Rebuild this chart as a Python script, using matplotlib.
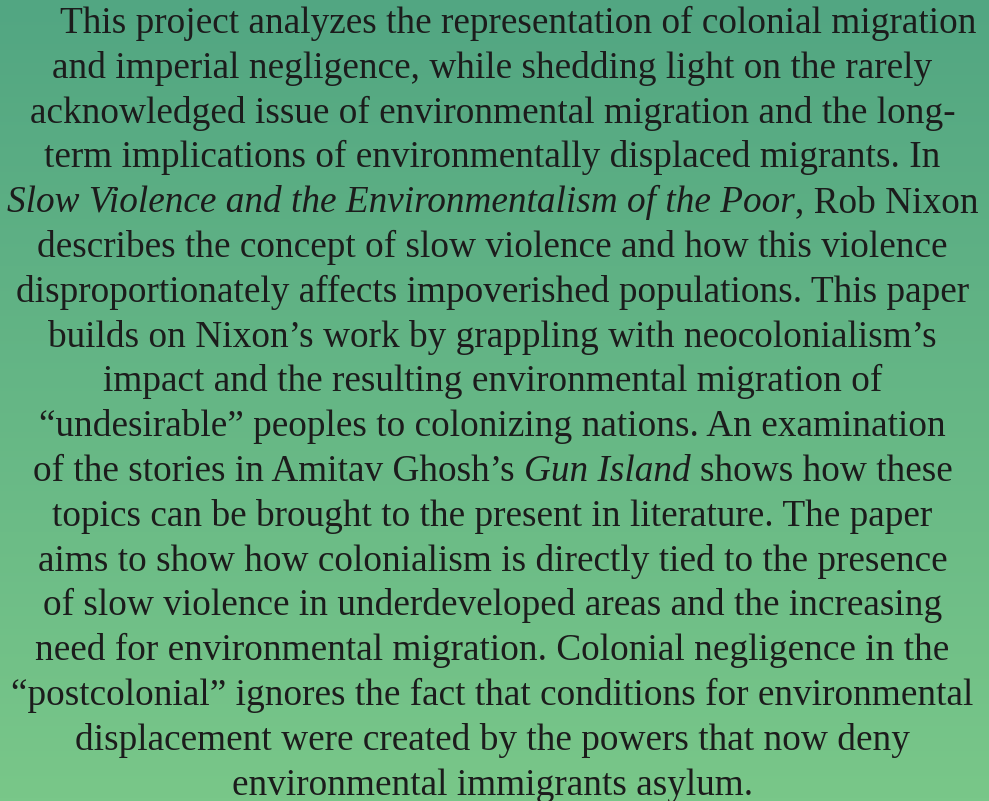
import numpy as np
import matplotlib
matplotlib.use("Agg")
import matplotlib.pyplot as plt
from matplotlib.colors import LinearSegmentedColormap

# texto del abstract: cada linea es una lista de (texto, estilo)
lines = [
    [("This project analyzes the representation of colonial migration", "normal")],
    [("and imperial negligence, while shedding light on the rarely", "normal")],
    [("acknowledged issue of environmental migration and the long-", "normal")],
    [("term implications of environmentally displaced migrants. In", "normal")],
    [("Slow Violence and the Environmentalism of the Poor", "italic"),
     (", Rob Nixon", "normal")],
    [("describes the concept of slow violence and how this violence", "normal")],
    [("disproportionately affects impoverished populations. This paper", "normal")],
    [("builds on Nixon\u2019s work by grappling with neocolonialism\u2019s", "normal")],
    [("impact and the resulting environmental migration of", "normal")],
    [("\u201cundesirable\u201d peoples to colonizing nations. An examination", "normal")],
    [("of the stories in Amitav Ghosh\u2019s", "normal"), (" ", "normal"),
     ("Gun Island", "italic"), (" ", "normal"), ("shows how these", "normal")],
    [("topics can be brought to the present in literature. The paper", "normal")],
    [("aims to show how colonialism is directly tied to the presence", "normal")],
    [("of slow violence in underdeveloped areas and the increasing", "normal")],
    [("need for environmental migration. Colonial negligence in the", "normal")],
    [("\u201cpostcolonial\u201d ignores the fact that conditions for environmental", "normal")],
    [("displacement were created by the powers that now deny", "normal")],
    [("environmental immigrants asylum.", "normal")],
]

W, H = 989, 801
fontsize = 26.8
family = "Liberation Serif"
txt_color = "#1c1c1c"
x_center = 492.5
indent = 51
y0 = 33
dy = 44.8

fig = plt.figure(figsize=(W / 100, H / 100), dpi=100)
ax = fig.add_axes([0, 0, 1, 1])
ax.set_xlim(0, W)
ax.set_ylim(H, 0)
ax.axis("off")

# fondo degradado
cmap = LinearSegmentedColormap.from_list("bg", ["#52a682", "#79c789"])
grad = np.linspace(0, 1, 256).reshape(-1, 1)
ax.imshow(grad, cmap=cmap, aspect="auto", extent=[0, W, H, 0], zorder=0)

fig.canvas.draw()
renderer = fig.canvas.get_renderer()


def width_of(t):
    bb = t.get_window_extent(renderer=renderer)
    return bb.width


for i, segs in enumerate(lines):
    y = y0 + i * dy
    texts = []
    widths = []
    for s, style in segs:
        if s == " ":
            # ancho de un espacio: medido con dos caracteres
            a = ax.text(0, y, "a a", fontsize=fontsize, family=family)
            b = ax.text(0, y, "aa", fontsize=fontsize, family=family)
            w = width_of(a) - width_of(b)
            a.remove()
            b.remove()
            texts.append(None)
            widths.append(w)
            continue
        t = ax.text(0, y, s, fontsize=fontsize, family=family, style=style,
                    color=txt_color, va="baseline", ha="left")
        texts.append(t)
        widths.append(width_of(t))
    extra = indent if i == 0 else 0
    total = sum(widths) + extra
    x = x_center - total / 2 + extra
    for t, w in zip(texts, widths):
        if t is not None:
            t.set_x(x)
        x += w

fig.savefig("out.png", dpi=100)
